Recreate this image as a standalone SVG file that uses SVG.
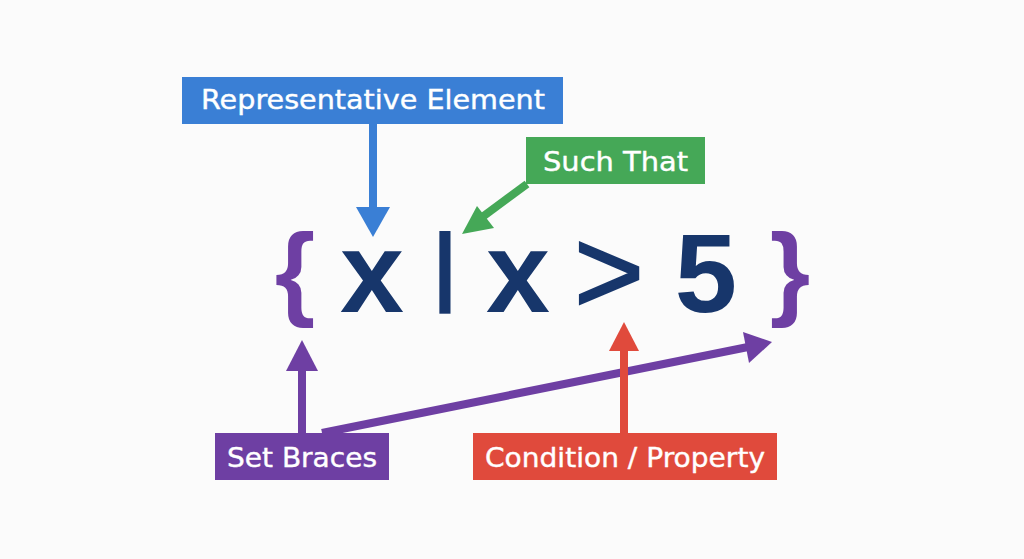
<svg xmlns="http://www.w3.org/2000/svg" width="1024" height="559" viewBox="0 0 1024 559">
<defs>
<style>
.lbl{font-family:"DejaVu Sans","Liberation Sans",sans-serif;font-size:27px;fill:#ffffff;stroke:#ffffff;stroke-width:0.4;text-anchor:middle}
.math{font-family:"Liberation Sans",Arial,sans-serif;font-weight:bold;fill:#17366b;text-anchor:middle}
.thin{font-weight:normal;stroke:#17366b;stroke-width:2;stroke-linejoin:miter}
.brace{font-family:"Liberation Sans",Arial,sans-serif;font-weight:bold;fill:#6e3fa3;text-anchor:middle}
.conn{fill:none;stroke-width:8}
</style>
</defs>
<rect x="0" y="0" width="1024" height="559" fill="#fbfbfb"/>

<g id="math">
<text class="brace" x="295" y="306" font-size="104">{</text>
<text class="math" x="372" y="312" font-size="115">x</text>
<text class="math" x="445" y="294" font-size="87">|</text>
<text class="math" x="518" y="312" font-size="115">x</text>
<text class="math thin" x="609" y="313" font-size="120">&gt;</text>
<text class="math" x="706" y="312" font-size="112">5</text>
<text class="brace" x="790" y="306" font-size="104">}</text>
</g>

<g id="connectors">
<line class="conn" x1="373" y1="124" x2="373" y2="209" stroke="#3a7fd5"/>
<polygon points="356,207 390,207 373,237" fill="#3a7fd5"/>
<line class="conn" x1="527" y1="184" x2="481" y2="218" stroke="#45a857"/>
<polygon points="477,206 494,228 462,234" fill="#45a857"/>
<line class="conn" x1="302" y1="433" x2="302" y2="369" stroke="#6e3fa3"/>
<polygon points="286,371 318,371 302,340" fill="#6e3fa3"/>
<line class="conn" x1="322" y1="433" x2="748" y2="347" stroke="#6e3fa3" stroke-width="7"/>
<polygon points="743,332 749,363 772,342" fill="#6e3fa3"/>
<line class="conn" x1="624" y1="433" x2="624" y2="349" stroke="#e04a3c" stroke-width="7"/>
<polygon points="609,351 639,351 624,322" fill="#e04a3c"/>
</g>

<g id="representative-element">
<rect x="182" y="77" width="381" height="47" fill="#3a7fd5"/>
<text class="lbl" x="373" y="109" textLength="344" lengthAdjust="spacingAndGlyphs">Representative Element</text>
</g>
<g id="such-that">
<rect x="526" y="137" width="179" height="47" fill="#45a857"/>
<text class="lbl" x="615.5" y="171" textLength="145" lengthAdjust="spacingAndGlyphs">Such That</text>
</g>
<g id="set-braces">
<rect x="215" y="433" width="174" height="47" fill="#6e3fa3"/>
<text class="lbl" x="302" y="467" textLength="150" lengthAdjust="spacingAndGlyphs">Set Braces</text>
</g>
<g id="condition-property">
<rect x="473" y="433" width="304" height="47" fill="#e04a3c"/>
<text class="lbl" x="625" y="467" textLength="280" lengthAdjust="spacingAndGlyphs">Condition / Property</text>
</g>
</svg>
